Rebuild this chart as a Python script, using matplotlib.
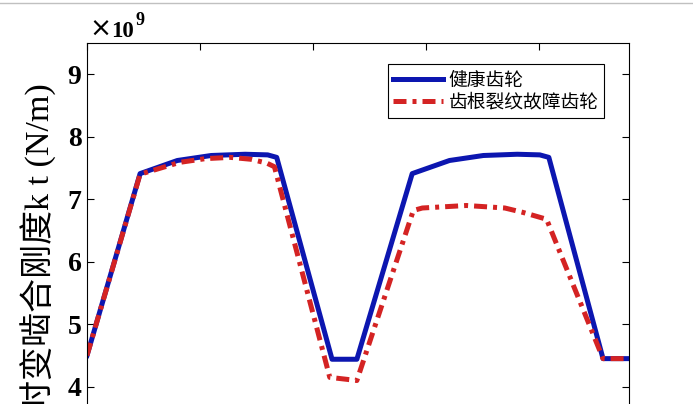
import matplotlib
matplotlib.use('Agg')
import matplotlib.pyplot as plt
from matplotlib.lines import Line2D

# mesh stiffness, units of 1e9 N/m
x_healthy = [0, 0.47, 0.80, 1.10, 1.40, 1.60, 1.68, 2.17, 2.39,
             2.88, 3.21, 3.51, 3.81, 4.01, 4.09, 4.57, 4.80]
k_healthy = [4.50, 7.41, 7.62, 7.70, 7.72, 7.71, 7.67, 4.44, 4.44,
             7.41, 7.62, 7.70, 7.72, 7.71, 7.67, 4.45, 4.45]

x_crack = [0, 0.47, 0.82, 1.05, 1.27, 1.45, 1.59, 1.66, 2.15, 2.39,
           2.89, 2.97, 3.36, 3.70, 3.86, 4.07, 4.57, 4.80]
k_crack = [4.50, 7.40, 7.59, 7.65, 7.67, 7.64, 7.58, 7.52, 4.15, 4.10,
           6.82, 6.86, 6.90, 6.86, 6.79, 6.68, 4.45, 4.45]

labels = ['健康齿轮', '齿根裂纹故障齿轮']
y_ticks = [4, 5, 6, 7, 8, 9]
x_ticks = [0, 1, 2, 3, 4]

cjk = ['Noto Sans CJK SC', 'DejaVu Sans']
serif_cjk = ['Liberation Serif', 'Noto Sans CJK SC']

fig = plt.figure(figsize=(6.93, 4.04), dpi=100)
ax = fig.add_axes([87/693, -14/404, 542/693, 375/404])

ax.plot(x_healthy, k_healthy, color='#0c16b0', lw=3.6, label=labels[0])
ax.plot(x_crack, k_crack, color='#d42323', lw=3.6,
        ls=(0, (2.6, 1.2, 0.8, 1.2)), label=labels[1])

ax.set_xlim(0, 4.8)
ax.set_ylim(3.5, 9.5)
ax.set_yticks(y_ticks)
ax.set_xticks(x_ticks)
ax.tick_params(direction='in', top=True, right=True, length=5, width=0.8, pad=4)
ax.tick_params(axis='x', labelbottom=False)
for lbl in ax.get_yticklabels():
    lbl.set_fontfamily('Liberation Serif')
    lbl.set_fontweight('bold')
    lbl.set_fontsize(20)
for s in ax.spines.values():
    s.set_linewidth(0.8)

leg = ax.legend(loc='upper left', bbox_to_anchor=(0.555, 0.944), borderaxespad=0,
                prop={'family': cjk, 'size': 13.5}, fancybox=False,
                edgecolor='black', framealpha=1, handlelength=2.67,
                handletextpad=0.27, borderpad=0.3, labelspacing=0.05)
leg.get_frame().set_linewidth(0.8)

fig.text(39/693, 1 - 83/404, '时变啮合刚度k t (N/m)', rotation=90, va='top',
         ha='center', fontsize=24.5, family=serif_cjk)

# exponent label drawn by hand, as MATLAB places it
fig.text(89/693, 1 - 37/404, '×', fontsize=19, family='DejaVu Sans',
         va='baseline', ha='left')
fig.text(111/693, 1 - 37/404, '10', fontsize=16.5, fontweight='bold',
         family='Liberation Serif', va='baseline', ha='left')
fig.text(136/693, 1 - 25/404, '9', fontsize=13, fontweight='bold',
         family='Liberation Serif', va='baseline', ha='left')

fig.add_artist(Line2D([0, 1], [1 - 2.5/404] * 2, transform=fig.transFigure,
                      color='#c0c0c0', lw=1))

fig.savefig('out.png', dpi=100)
